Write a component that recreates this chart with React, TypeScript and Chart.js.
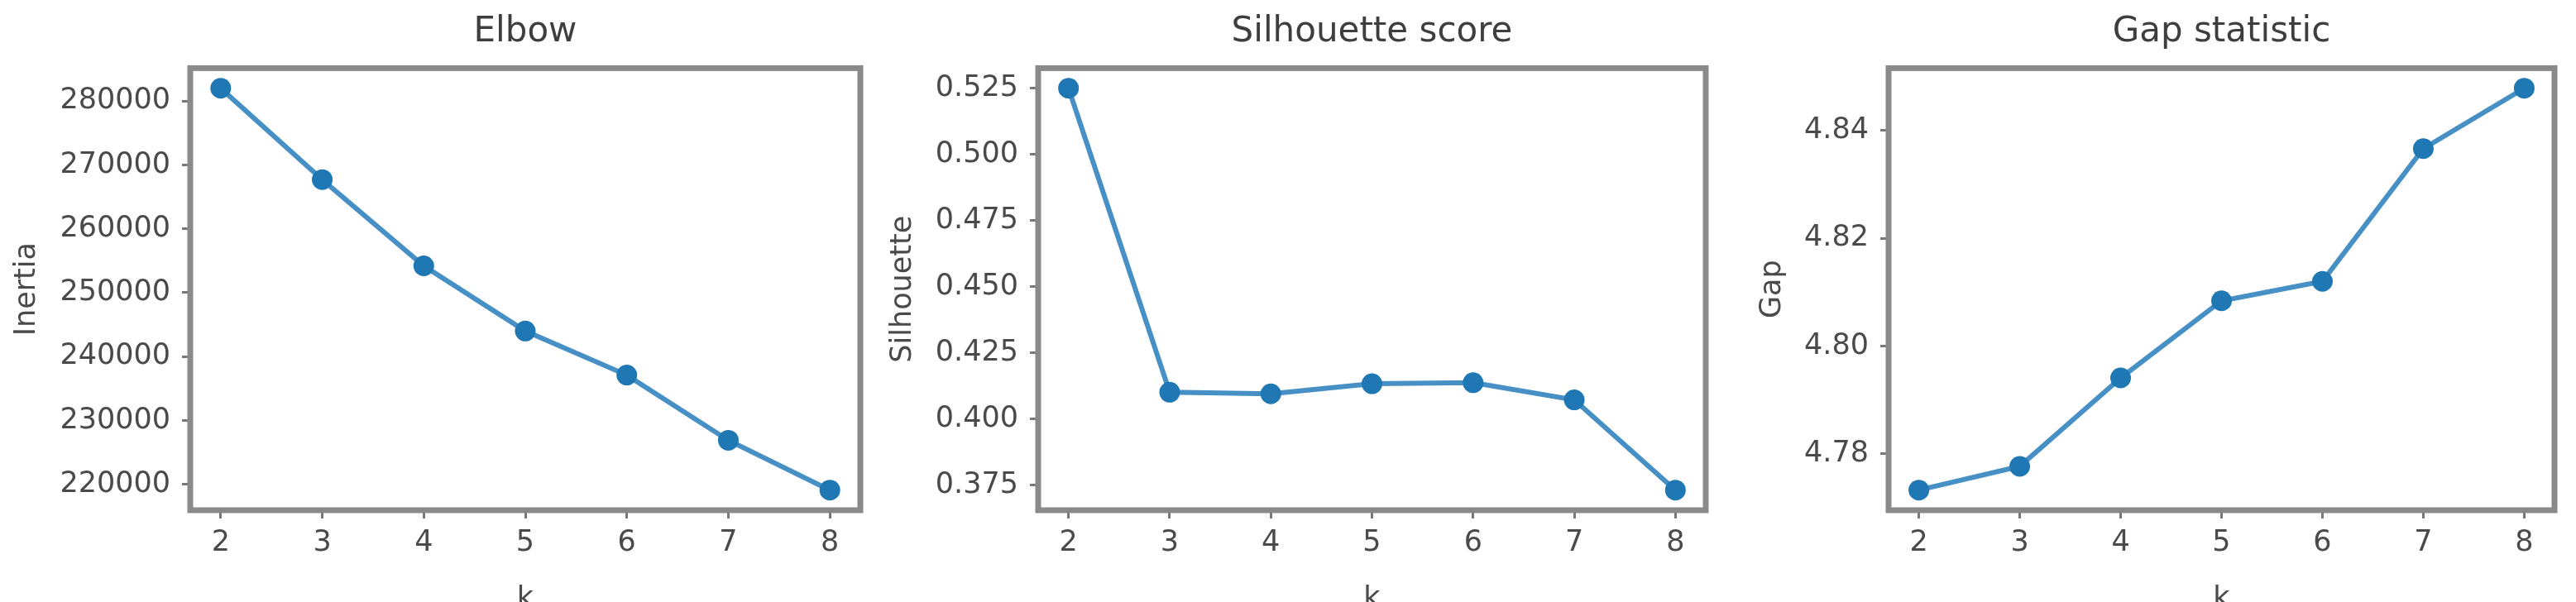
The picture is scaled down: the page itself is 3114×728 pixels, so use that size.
import React, { useEffect, useRef } from "react";
import { Chart, registerables } from "chart.js";

Chart.register(...registerables);

// ---- data ----
const K = [2, 3, 4, 5, 6, 7, 8];
const inertia = [282000, 267700, 254200, 244000, 237100, 226900, 219100];
const silhouette = [0.525, 0.4101, 0.4095, 0.4133, 0.4137, 0.4072, 0.3731];
const gap = [4.7733, 4.7777, 4.7941, 4.8084, 4.812, 4.8366, 4.8478];

const inertiaTicks = [220000, 230000, 240000, 250000, 260000, 270000, 280000];
const silhouetteTicks = [0.375, 0.4, 0.425, 0.45, 0.475, 0.5, 0.525];
const gapTicks = [4.78, 4.8, 4.82, 4.84];

const titles = ["Elbow", "Silhouette score", "Gap statistic"];
const yLabels = ["Inertia", "Silhouette", "Gap"];
const xLabel = "k";

// ---- styling / layout ----
const FONT = "'DejaVu Sans', sans-serif";
const TEXT = "#4a4a4a";
const LINE = "#4690c6";
const MARK = "#1f77b4";
const SPINE = "#8a8a8a";
const H = 728;
const PLOT_BOTTOM = 617;

type PanelCfg = {
  title: string;
  yLabel: string;
  values: number[];
  ticks: number[];
  decimals: number;
  canvasLeft: number;
  yw: number;
  plotW: number;
  yTitlePad: number;
};

const spinePlugin = {
  id: "spines",
  afterDatasetsDraw(chart: any) {
    const { ctx, chartArea } = chart;
    ctx.save();
    ctx.strokeStyle = SPINE;
    ctx.lineWidth = 7;
    ctx.strokeRect(
      chartArea.left,
      chartArea.top,
      chartArea.right - chartArea.left,
      chartArea.bottom - chartArea.top
    );
    ctx.restore();
  },
};

function Panel({ cfg }: { cfg: PanelCfg }) {
  const ref = useRef<HTMLCanvasElement | null>(null);
  const width = cfg.yw * 2 + cfg.plotW;

  useEffect(() => {
    if (!ref.current) return;
    const vmin = Math.min(...cfg.values);
    const vmax = Math.max(...cfg.values);
    const m = (vmax - vmin) * 0.05;
    const kmin = Math.min(...K);
    const kmax = Math.max(...K);
    const km = (kmax - kmin) * 0.05;

    const chart = new Chart(ref.current, {
      type: "line",
      data: {
        datasets: [
          {
            data: K.map((k, i) => ({ x: k, y: cfg.values[i] })),
            borderColor: LINE,
            borderWidth: 6,
            pointRadius: 12.5,
            pointBackgroundColor: MARK,
            pointBorderWidth: 0,
            pointHoverRadius: 12.5,
            tension: 0,
            fill: false,
          },
        ],
      },
      options: {
        animation: false,
        responsive: false,
        maintainAspectRatio: false,
        events: [],
        layout: { padding: 0 },
        plugins: {
          legend: { display: false },
          tooltip: { enabled: false },
          title: {
            display: true,
            text: cfg.title,
            color: "#3e3e3e",
            font: { family: FONT, size: 42, weight: "normal" },
            padding: { top: 14, bottom: 18 },
          },
        },
        scales: {
          x: {
            type: "linear",
            min: kmin - km,
            max: kmax + km,
            afterBuildTicks: (s: any) => {
              s.ticks = K.map((v) => ({ value: v }));
            },
            afterFit: (s: any) => {
              s.height = H - PLOT_BOTTOM;
            },
            ticks: {
              color: TEXT,
              font: { family: FONT, size: 35 },
              padding: 9,
              maxRotation: 0,
              autoSkip: false,
              callback: (v: any) => String(v),
            },
            grid: {
              display: true,
              drawOnChartArea: false,
              drawTicks: true,
              tickLength: 10,
              tickWidth: 3,
              color: "#777",
              lineWidth: 3,
            },
            border: { display: false },
            title: {
              display: true,
              text: xLabel,
              color: TEXT,
              font: { family: FONT, size: 35 },
              padding: { top: 0, bottom: -18 },
            },
          },
          y: {
            type: "linear",
            position: "left",
            min: vmin - m,
            max: vmax + m,
            afterBuildTicks: (s: any) => {
              s.ticks = cfg.ticks.map((v) => ({ value: v }));
            },
            afterFit: (s: any) => {
              s.width = cfg.yw;
            },
            ticks: {
              color: TEXT,
              font: { family: FONT, size: 35 },
              padding: 14,
              autoSkip: false,
              callback: (v: any) => Number(v).toFixed(cfg.decimals),
            },
            grid: {
              display: true,
              drawOnChartArea: false,
              drawTicks: true,
              tickLength: 10,
              tickWidth: 3,
              color: "#777",
              lineWidth: 3,
            },
            border: { display: false },
            title: {
              display: true,
              text: cfg.yLabel,
              color: TEXT,
              font: { family: FONT, size: 35 },
              padding: { top: cfg.yTitlePad, bottom: 0 },
            },
          },
          y2: {
            type: "linear",
            axis: "y",
            position: "right",
            display: true,
            afterFit: (s: any) => {
              s.width = cfg.yw;
            },
            ticks: { display: false },
            grid: { display: false },
            border: { display: false },
            title: { display: false },
          },
        },
      } as any,
      plugins: [spinePlugin],
    });
    return () => chart.destroy();
  }, []);

  return (
    <canvas
      ref={ref}
      width={width}
      height={H}
      style={{
        position: "absolute",
        left: cfg.canvasLeft,
        top: 0,
        width: width,
        height: H,
      }}
    />
  );
}

const panels: PanelCfg[] = [
  {
    title: titles[0],
    yLabel: yLabels[0],
    values: inertia,
    ticks: inertiaTicks,
    decimals: 0,
    canvasLeft: 0,
    yw: 230,
    plotW: 810,
    yTitlePad: 12,
  },
  {
    title: titles[1],
    yLabel: yLabels[1],
    values: silhouette,
    ticks: silhouetteTicks,
    decimals: 3,
    canvasLeft: 1060,
    yw: 195,
    plotW: 807,
    yTitlePad: 11,
  },
  {
    title: titles[2],
    yLabel: yLabels[2],
    values: gap,
    ticks: gapTicks,
    decimals: 2,
    canvasLeft: 2100,
    yw: 183,
    plotW: 805,
    yTitlePad: 22,
  },
];

export default function App() {
  return (
    <div
      style={{
        position: "absolute",
        left: 0,
        top: 0,
        width: 3114,
        height: H,
        overflow: "hidden",
        background: "#ffffff",
      }}
    >
      {panels.map((p, i) => (
        <Panel key={i} cfg={p} />
      ))}
    </div>
  );
}
